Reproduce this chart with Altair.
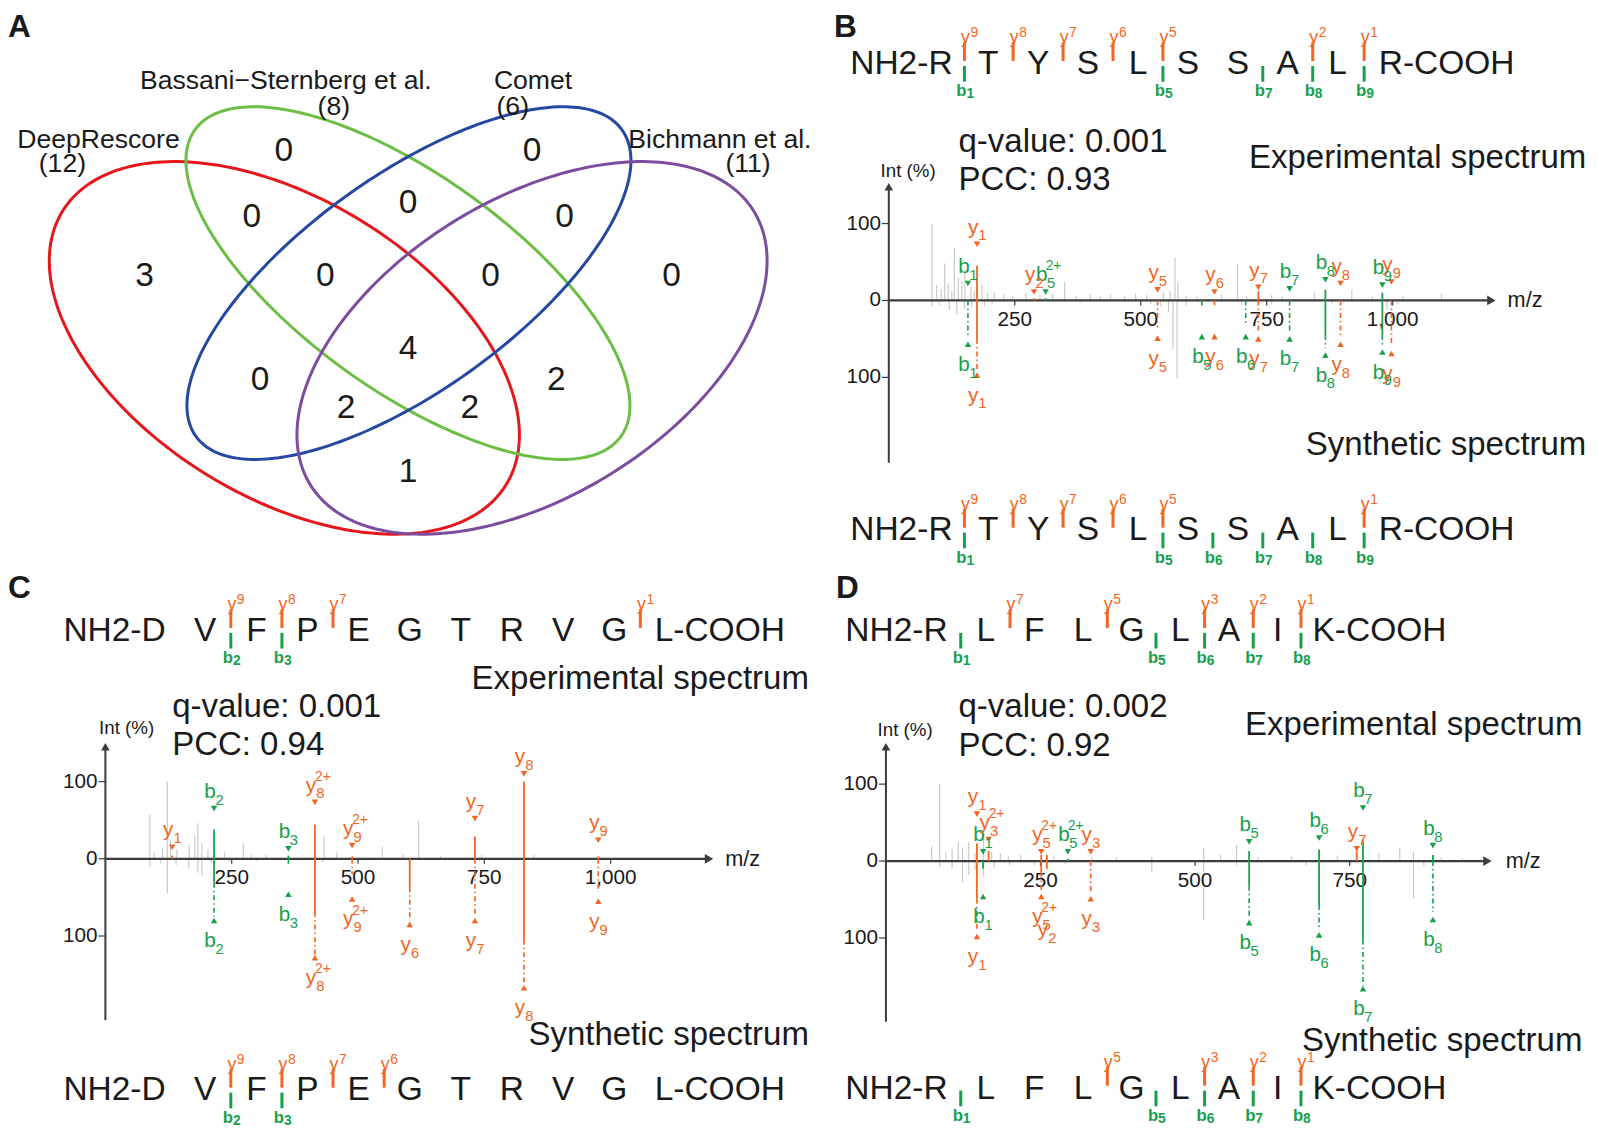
import altair as alt
import numpy as np
import pandas as pd

# ============================ DATA ============================
# ---- Panel A: overlap of identified peptides ----
VENN_NAMES = ["DeepRescore", "Bassani\u2212Sternberg et al.", "Comet", "Bichmann et al."]
VENN_TOTALS = [12, 8, 6, 11]
# region keys: A=DeepRescore, B=Bassani-Sternberg, C=Comet, D=Bichmann
REGION_KEYS = ["B", "C", "AB", "BC", "CD", "A", "ABC", "BCD", "D",
               "ABCD", "AC", "BD", "ACD", "ABD", "AD"]
REGION_COUNTS = [0, 0, 0, 0, 0, 3, 0, 0, 0, 4, 0, 2, 2, 2, 1]

# ---- Panel B: RTYSLSSALR ----
B_PEPTIDE = "RTYSLSSALR"
B_QVALUE = "q-value: 0.001"
B_PCC = "PCC: 0.93"
B_TOP_Y = [9, 8, 7, 6, 5, 2, 1]
B_TOP_B = [1, 5, 7, 8, 9]
B_BOT_Y = [9, 8, 7, 6, 5, 1]
B_BOT_B = [1, 5, 6, 7, 8, 9]
B_ION_TYPE = ["b", "y", "y", "b", "y", "b", "y", "b", "y", "b", "b", "y", "b", "y"]
B_ION_NUM = [1, 1, 2, 5, 5, 5, 6, 6, 7, 7, 8, 8, 9, 9]
B_ION_CHARGE = ["", "", "", "2+", "", "", "", "", "", "", "", "", "", ""]
B_ION_MZ = [157.1, 175.1, 288.2, 311.2, 533.3, 621.3, 646.4, 708.4, 733.4, 795.4, 866.5, 896.5, 979.6, 997.6]
B_EXP_INT = [0, 45, 3, 3, 0, 0, 0, 0, 12, 0, 14, 0, 10, 0]
B_SYN_INT = [0, -50, 0, 0, 0, 0, 0, 0, 0, 0, -45, 0, -45, 0]
B_LINK_INT = [-48, -92, 0, 0, -35, -10, -10, -30, -40, -40, -62, -48, -60, -58]
B_MARK_EXP = [22, 73, 11, 11, 14, None, 11, None, 17, 15, 27, 22, 20, 24]
B_MARK_SYN = [-57, -97, None, None, -49, -47, -47, -47, -50, -50, -71, -57, -67, -69]
B_LABEL_SYN = [None] * 14
B_GRAY_TOP_MZ = [86, 95, 104, 111, 118, 125, 130, 138, 145, 151, 163, 170, 185, 196, 209, 228, 246, 272,
                 300, 325, 349, 372, 400, 420, 440, 468, 490, 512, 545, 558, 568, 574, 590, 612, 660, 692,
                 710, 760, 780, 845, 919, 960, 1020, 1097]
B_GRAY_TOP_INT = [100, 20, 15, 48, 22, 12, 69, 30, 25, 39, 18, 12, 20, 10, 11, 8, 6, 10,
                  7, 9, 24, 6, 8, 5, 8, 6, 9, 7, 10, 12, 56, 24, 6, 5, 8, 48,
                  6, 7, 5, 10, 14, 5, 6, 9]
B_GRAY_BOT_MZ = [86, 100, 120, 135, 150, 165, 190, 205, 250, 380, 520, 540, 555, 564, 572, 590, 700,
                 760, 880, 989, 1010]
B_GRAY_BOT_INT = [-8, -6, -12, -18, -10, -9, -7, -5, -4, -3, -5, -8, -15, -63, -101, -7, -6,
                  -5, -4, -12, -5]
B_XTICKS = [250, 500, 750, 1000]
B_XTICK_LABELS = ["250", "500", "750", "1,000"]

# ---- Panel C: DVFPEGTRVGL ----
C_PEPTIDE = "DVFPEGTRVGL"
C_QVALUE = "q-value: 0.001"
C_PCC = "PCC: 0.94"
C_TOP_Y = [9, 8, 7, 1]
C_TOP_B = [2, 3]
C_BOT_Y = [9, 8, 7, 6]
C_BOT_B = [2, 3]
C_ION_TYPE = ["y", "b", "b", "y", "y", "y", "y", "y", "y"]
C_ION_NUM = [1, 2, 3, 8, 9, 6, 7, 8, 9]
C_ION_CHARGE = ["", "", "", "2+", "2+", "", "", "", ""]
C_ION_MZ = [132.1, 215.1, 362.2, 414.7, 488.3, 602.4, 731.4, 828.5, 975.5]
C_EXP_INT = [4, 38, 4, 44, 3, 0, 29, 100, 3]
C_SYN_INT = [0, -31, 0, -69, 0, -37, 0, -105, 0]
C_LINK_INT = [0, -75, -8, -124, -20, -80, -71, -162, -43]
C_MARK_EXP = [15, 65, 13, 73, 17, None, 52, 110, 24]
C_MARK_SYN = [None, -80, -46, -128, -52, -85, -80, -167, -55]
C_LABEL_SYN = [None] * 9
C_GRAY_TOP_MZ = [88, 96, 113, 122.6, 129, 141.5, 166, 177, 183, 191, 203, 236, 273, 289, 318, 433,
                 458, 548, 589, 620, 663, 745, 848]
C_GRAY_TOP_INT = [57, 8, 15, 100, 25, 12, 18, 30, 46, 20, 12, 8, 20, 6, 5, 29,
                  8, 16, 6, 49, 4, 5, 5]
C_GRAY_BOT_MZ = [88, 110, 122.6, 140, 165, 183, 191, 210, 245, 300, 430, 600, 740]
C_GRAY_BOT_INT = [-10, -6, -45, -8, -12, -18, -22, -5, -4, -3, -4, -3, -3]
C_XTICKS = [250, 500, 750, 1000]
C_XTICK_LABELS = ["250", "500", "750", "1,000"]

# ---- Panel D: RLFLGLAIK ----
D_PEPTIDE = "RLFLGLAIK"
D_QVALUE = "q-value: 0.002"
D_PCC = "PCC: 0.92"
D_TOP_Y = [7, 5, 3, 2, 1]
D_TOP_B = [1, 5, 6, 7, 8]
D_BOT_Y = [5, 3, 2, 1]
D_BOT_B = [1, 5, 6, 7, 8]
D_ION_TYPE = ["y", "b", "y", "y", "y", "b", "y", "b", "b", "y", "b", "b"]
D_ION_NUM = [1, 1, 3, 5, 2, 5, 3, 5, 6, 7, 7, 8]
D_ION_CHARGE = ["", "", "2+", "2+", "", "2+", "", "", "", "", "", ""]
D_ION_MZ = [147.1, 157.1, 166.1, 251.2, 260.2, 294.2, 331.2, 587.4, 700.5, 761.5, 771.5, 884.6]
D_EXP_INT = [23, 0, 13, 8, 8, 3, 0, 13, 15, 13, 28, 8]
D_SYN_INT = [-49, -10, 0, -15, -10, 0, 0, -32, -57, 0, -102, 0]
D_LINK_INT = [-90, -10, 0, -40, -10, 0, -40, -74, -90, 0, -162, -66]
D_MARK_EXP = [61, 12, 28, 12, None, 12, 12, 25, 30, 16, 69, 20]
D_MARK_SYN = [-98, -46, None, -46, None, None, -49, -80, -96, None, -166, -76]
D_LABEL_SYN = [None, None, None, None, -63, None, None, None, None, None, None, None]
D_GRAY_TOP_MZ = [74, 87, 97, 107, 117, 124, 134, 144, 158, 171, 185, 198, 218, 272, 333, 373, 430,
                 514, 541, 567, 602, 656, 730, 797, 831, 853, 898, 932]
D_GRAY_TOP_INT = [19, 100, 12, 15, 25, 18, 25, 10, 36, 12, 10, 6, 8, 6, 6, 5, 6,
                  17, 8, 21, 5, 6, 7, 10, 17, 12, 5, 4]
D_GRAY_BOT_MZ = [87, 107, 124, 134, 144, 158, 175, 200, 240, 290, 430, 514, 567, 680, 853, 870]
D_GRAY_BOT_INT = [-8, -10, -28, -18, -12, -20, -8, -6, -5, -4, -15, -77, -6, -5, -49, -6]
D_XTICKS = [250, 500, 750]
D_XTICK_LABELS = ["250", "500", "750"]

INT_TICKS = [100, 0, -100]
INT_TICK_LABELS = ["100", "0", "100"]

# ============================ STYLE / LAYOUT ============================
SX = 1580 / 1598
SY = 1117 / 1137
FS = 0.985
FONT = "Liberation Sans, Arial, Helvetica, sans-serif"
BLACK = "#1a1a1a"
ORANGE = "#F26522"
GREEN = "#17A04B"
GRAY = "#C6C6C6"
AXIS = "#3c3c3c"
VENN_COLORS = ["#E5171D", "#6DBE46", "#2548A0", "#7C4C9E"]

SEQ_FS = 34
TITLE_FS = 33.5

VENN_BOX = (828, 570)
VENN_CX = [279.5, 404.5, 405.5, 530.0]
VENN_CY = [346.0, 280.0, 280.0, 346.0]
VENN_SEMI_A = [264, 266, 266, 264]
VENN_SEMI_B = [151, 109, 109, 151]
VENN_ROT = [32, 36, -36, -32]
REGION_POS = [(279, 146), (530, 146), (246.5, 213), (404.7, 199), (563, 213), (138, 273),
              (321, 273), (488, 273), (671, 273), (404.7, 347), (255, 379), (554.6, 379),
              (342, 407), (467, 407), (404.7, 472)]
NAME_POS = [(91.5, 134), (281, 74), (531, 74), (720, 134)]
TOTAL_POS = [(55, 159), (329.5, 101), (510.5, 101), (748.5, 159)]

LAYOUT_B = dict(box=(828, 0, 770, 570), zx=890.5, ppm=0.5096, zy=297.7, ppi=0.783,
                axis_top=178, axis_bot=463, arrow_x=1504, letter=(835, 20),
                q=(961, 136), pcc=(961, 175), exp=(1596, 153), syn=(1596, 445),
                intlab=(910, 166), mzlab=(1534, 297),
                seq=(955, 991, 50.5, 1386), seq_top=55, seq_bot=530)
LAYOUT_C = dict(box=(0, 570, 828, 567), zx=98.5, ppm=0.511, zy=866, ppi=0.786,
                axis_top=748, axis_bot=1030, arrow_x=713, letter=(0, 591),
                q=(166, 711), pcc=(166, 750), exp=(810, 683), syn=(810, 1045),
                intlab=(120, 733), mzlab=(743, 866),
                seq=(159.5, 199.5, 51.7, 654), seq_top=632, seq_bot=1100)
LAYOUT_D = dict(box=(828, 570, 770, 567), zx=887.6, ppm=0.6254, zy=868.3, ppi=0.783,
                axis_top=748, axis_bot=1032, arrow_x=1500, letter=(837, 591),
                q=(961, 711), pcc=(961, 751), exp=(1592, 730), syn=(1592, 1051),
                intlab=(907, 735), mzlab=(1532, 868),
                seq=(950, 988.5, 49.2, 1319), seq_top=632, seq_bot=1098)


# ============================ HELPERS ============================
def _xy(xs, ys):
    return dict(x=alt.X("x:Q", scale=xs, axis=None), y=alt.Y("y:Q", scale=ys, axis=None))


def vrule(df, xs, ys, width, dash=None):
    kw = dict(strokeWidth=width)
    if dash is not None:
        kw["strokeDash"] = dash
    return alt.Chart(df).mark_rule(**kw).encode(
        y2=alt.Y2("y2:Q"), color=alt.Color("c:N", scale=None), **_xy(xs, ys))


def hrule(df, xs, ys, width):
    return alt.Chart(df).mark_rule(strokeWidth=width).encode(
        x2=alt.X2("x2:Q"), color=alt.Color("c:N", scale=None), **_xy(xs, ys))


def txt(df, xs, ys, size, align="center", baseline="alphabetic", weight="normal", dx=0.0, dy=0.0):
    return alt.Chart(df).mark_text(
        align=align, baseline=baseline, fontSize=size * FS, fontWeight=weight,
        dx=dx * SX, dy=dy * SY, font=FONT,
    ).encode(text=alt.Text("t:N"), color=alt.Color("c:N", scale=None), **_xy(xs, ys))


def pts(df, xs, ys, shape, size):
    return alt.Chart(df).mark_point(shape=shape, filled=True, size=size, opacity=1).encode(
        color=alt.Color("c:N", scale=None), **_xy(xs, ys))


# ============================ PANEL A ============================
def venn_panel():
    W, H = VENN_BOX
    xs = alt.Scale(domain=[0, W], nice=False, zero=False)
    ys = alt.Scale(domain=[0, H], nice=False, zero=False, reverse=True)
    t = np.linspace(0, 2 * np.pi, 241)
    rows = []
    for k in range(4):
        th = np.deg2rad(VENN_ROT[k])
        ex = VENN_CX[k] + VENN_SEMI_A[k] * np.cos(t) * np.cos(th) - VENN_SEMI_B[k] * np.sin(t) * np.sin(th)
        ey = VENN_CY[k] + VENN_SEMI_A[k] * np.cos(t) * np.sin(th) + VENN_SEMI_B[k] * np.sin(t) * np.cos(th)
        for i in range(len(t)):
            rows.append(dict(s=k, o=i, x=float(ex[i]), y=float(ey[i]), c=VENN_COLORS[k]))
    ell = alt.Chart(pd.DataFrame(rows)).mark_line(strokeWidth=3).encode(
        order="o:Q", detail="s:N", color=alt.Color("c:N", scale=None), **_xy(xs, ys))
    counts = pd.DataFrame({"x": [p[0] for p in REGION_POS], "y": [p[1] for p in REGION_POS],
                           "t": [str(v) for v in REGION_COUNTS], "c": BLACK})
    names = pd.DataFrame({"x": [p[0] for p in NAME_POS], "y": [p[1] for p in NAME_POS],
                          "t": VENN_NAMES, "c": BLACK})
    totals = pd.DataFrame({"x": [p[0] for p in TOTAL_POS], "y": [p[1] for p in TOTAL_POS],
                           "t": ["(%d)" % v for v in VENN_TOTALS], "c": BLACK})
    letter = pd.DataFrame({"x": [0.0], "y": [20.0], "t": ["A"], "c": [BLACK]})
    layers = [
        ell,
        txt(counts, xs, ys, 34, baseline="middle"),
        txt(names, xs, ys, 27, baseline="middle"),
        txt(totals, xs, ys, 27, baseline="middle"),
        txt(letter, xs, ys, 32, align="left", baseline="middle", weight="bold"),
    ]
    return alt.layer(*layers).properties(width=W * SX, height=H * SY)


# ============================ SPECTRUM PANELS ============================
def spectrum_panel(L, peptide, qtxt, ptxt, top_y, top_b, bot_y, bot_b,
                   itype, inum, ichg, imz, iexp, isyn, ilink, imexp, imsyn, ilsyn,
                   gt_mz, gt_int, gb_mz, gb_int, xticks, xticklabels, letter):
    ox, oy, W, H = L["box"]
    zx, ppm, zy, ppi = L["zx"], L["ppm"], L["zy"], L["ppi"]

    def X(xr):
        return (xr - zx) / ppm

    def Y(yr):
        return (zy - yr) / ppi

    xs = alt.Scale(domain=[X(ox), X(ox + W)], nice=False, zero=False)
    ys = alt.Scale(domain=[Y(oy + H), Y(oy)], nice=False, zero=False)
    layers = []

    # background (unannotated) peaks
    g = pd.DataFrame({"x": list(gt_mz) + list(gb_mz),
                      "y": [0.0] * (len(gt_mz) + len(gb_mz)),
                      "y2": list(gt_int) + list(gb_int), "c": GRAY})
    layers.append(vrule(g, xs, ys, 1.1))

    # axes
    layers.append(vrule(pd.DataFrame({"x": [0.0], "y": [Y(L["axis_bot"])], "y2": [Y(L["axis_top"] + 4)],
                                      "c": [AXIS]}), xs, ys, 2.0))
    layers.append(hrule(pd.DataFrame({"x": [0.0], "x2": [X(L["arrow_x"] - 4)], "y": [0.0],
                                      "c": [AXIS]}), xs, ys, 2.2))
    layers.append(pts(pd.DataFrame({"x": [0.0], "y": [Y(L["axis_top"] + 4)], "c": [AXIS]}),
                      xs, ys, "triangle-up", 75))
    layers.append(pts(pd.DataFrame({"x": [X(L["arrow_x"] - 4)], "y": [0.0], "c": [AXIS]}),
                      xs, ys, "triangle-right", 95))
    yt = pd.DataFrame({"x": X(zx - 7), "x2": 0.0, "y": INT_TICKS, "c": AXIS})
    layers.append(hrule(yt, xs, ys, 1.2))
    ytl = pd.DataFrame({"x": X(zx - 8), "y": INT_TICKS, "t": INT_TICK_LABELS, "c": BLACK})
    layers.append(txt(ytl, xs, ys, 21, align="right", baseline="middle"))
    xt = pd.DataFrame({"x": xticks, "y": 0.0, "y2": Y(zy + 5), "c": AXIS})
    layers.append(vrule(xt, xs, ys, 1.2))
    xtl = pd.DataFrame({"x": xticks, "y": Y(zy + 20), "t": xticklabels, "c": BLACK})
    layers.append(txt(xtl, xs, ys, 21, baseline="middle"))

    # annotated ions
    solid, dashed = [], []
    tri_top, tri_bot = [], []
    lt, lts, ltp, lb, lbs, lbp = [], [], [], [], [], []
    for k in range(len(imz)):
        col = ORANGE if itype[k] == "y" else GREEN
        m = imz[k]
        if iexp[k] != isyn[k]:
            solid.append(dict(x=m, y=iexp[k], y2=isyn[k], c=col))
        if ilink[k] < isyn[k]:
            dashed.append(dict(x=m, y=isyn[k], y2=ilink[k], c=col))
        if imexp[k] is not None:
            tri_top.append(dict(x=m, y=imexp[k], c=col))
            lt.append(dict(x=m, y=imexp[k], t=itype[k], c=col))
            lts.append(dict(x=m, y=imexp[k], t=str(inum[k]), c=col))
            if ichg[k]:
                ltp.append(dict(x=m, y=imexp[k], t=ichg[k], c=col))
        anchor = imsyn[k]
        if imsyn[k] is not None:
            tri_bot.append(dict(x=m, y=imsyn[k], c=col))
        elif ilsyn[k] is not None:
            anchor = ilsyn[k]
        if anchor is not None:
            lb.append(dict(x=m, y=anchor, t=itype[k], c=col))
            lbs.append(dict(x=m, y=anchor, t=str(inum[k]), c=col))
            if ichg[k]:
                lbp.append(dict(x=m, y=anchor, t=ichg[k], c=col))
    if solid:
        layers.append(vrule(pd.DataFrame(solid), xs, ys, 1.8))
    if dashed:
        layers.append(vrule(pd.DataFrame(dashed), xs, ys, 1.6, dash=[5, 3, 1.5, 3]))
    if tri_top:
        layers.append(pts(pd.DataFrame(tri_top), xs, ys, "triangle-down", 42))
    if tri_bot:
        layers.append(pts(pd.DataFrame(tri_bot), xs, ys, "triangle-up", 42))
    if lt:
        layers.append(txt(pd.DataFrame(lt), xs, ys, 21, dx=-4, dy=-11))
        layers.append(txt(pd.DataFrame(lts), xs, ys, 15, dx=5.5, dy=-4))
    if ltp:
        layers.append(txt(pd.DataFrame(ltp), xs, ys, 14, dx=8, dy=-22))
    if lb:
        layers.append(txt(pd.DataFrame(lb), xs, ys, 21, dx=-4, dy=27))
        layers.append(txt(pd.DataFrame(lbs), xs, ys, 15, dx=5.5, dy=34))
    if lbp:
        layers.append(txt(pd.DataFrame(lbp), xs, ys, 14, dx=8, dy=16))

    # peptide sequences with fragment markers
    pe, ms, pitch, ss = L["seq"]
    n = len(peptide)
    centers = [pe - 12] + [ms + pitch * i for i in range(n - 2)] + [ss + 12]
    bx = {k: (centers[k - 1] + centers[k]) / 2 for k in range(1, n)}
    for yc, ylist, blist in [(L["seq_top"], top_y, top_b), (L["seq_bot"], bot_y, bot_b)]:
        base = Y(yc + 12)
        mid = pd.DataFrame({"x": [X(c) for c in centers[1:-1]], "y": base,
                            "t": list(peptide[1:-1]), "c": BLACK})
        layers.append(txt(mid, xs, ys, SEQ_FS))
        layers.append(txt(pd.DataFrame({"x": [X(pe)], "y": [base], "t": ["NH2-" + peptide[0]],
                                        "c": [BLACK]}), xs, ys, SEQ_FS, align="right"))
        layers.append(txt(pd.DataFrame({"x": [X(ss)], "y": [base], "t": [peptide[-1] + "-COOH"],
                                        "c": [BLACK]}), xs, ys, SEQ_FS, align="left"))
        ypos = [X(bx[n - j]) for j in ylist]
        bpos = [X(bx[j]) for j in blist]
        layers.append(vrule(pd.DataFrame({"x": ypos, "y": Y(yc - 20), "y2": Y(yc - 1), "c": ORANGE}),
                            xs, ys, 3))
        layers.append(vrule(pd.DataFrame({"x": bpos, "y": Y(yc + 4), "y2": Y(yc + 20), "c": GREEN}),
                            xs, ys, 3))
        layers.append(txt(pd.DataFrame({"x": ypos, "y": Y(yc - 19), "t": "y", "c": ORANGE}),
                          xs, ys, 18, dx=1))
        layers.append(txt(pd.DataFrame({"x": ypos, "y": Y(yc - 19), "t": [str(j) for j in ylist],
                                        "c": ORANGE}), xs, ys, 14, dx=10, dy=-6))
        layers.append(txt(pd.DataFrame({"x": bpos, "y": Y(yc + 35), "t": "b", "c": GREEN}),
                          xs, ys, 17, weight="bold", dx=-3))
        layers.append(txt(pd.DataFrame({"x": bpos, "y": Y(yc + 35), "t": [str(j) for j in blist],
                                        "c": GREEN}), xs, ys, 14, weight="bold", dx=6, dy=2))

    # annotations
    def one(p, s):
        return pd.DataFrame({"x": [X(p[0])], "y": [Y(p[1])], "t": [s], "c": [BLACK]})

    layers.append(txt(one(L["q"], qtxt), xs, ys, TITLE_FS, align="left", baseline="middle"))
    layers.append(txt(one(L["pcc"], ptxt), xs, ys, TITLE_FS, align="left", baseline="middle"))
    layers.append(txt(one(L["exp"], "Experimental spectrum"), xs, ys, TITLE_FS, align="right",
                      baseline="middle"))
    layers.append(txt(one(L["syn"], "Synthetic spectrum"), xs, ys, TITLE_FS, align="right",
                      baseline="middle"))
    layers.append(txt(one(L["intlab"], "Int (%)"), xs, ys, 19, baseline="middle"))
    layers.append(txt(one(L["mzlab"], "m/z"), xs, ys, 22, baseline="middle"))
    layers.append(txt(one(L["letter"], letter), xs, ys, 32, align="left", baseline="middle", weight="bold"))

    return alt.layer(*layers).properties(width=W * SX, height=H * SY)


panel_a = venn_panel()
panel_b = spectrum_panel(LAYOUT_B, B_PEPTIDE, B_QVALUE, B_PCC, B_TOP_Y, B_TOP_B, B_BOT_Y, B_BOT_B,
                         B_ION_TYPE, B_ION_NUM, B_ION_CHARGE, B_ION_MZ, B_EXP_INT, B_SYN_INT,
                         B_LINK_INT, B_MARK_EXP, B_MARK_SYN, B_LABEL_SYN,
                         B_GRAY_TOP_MZ, B_GRAY_TOP_INT, B_GRAY_BOT_MZ, B_GRAY_BOT_INT,
                         B_XTICKS, B_XTICK_LABELS, "B")
panel_c = spectrum_panel(LAYOUT_C, C_PEPTIDE, C_QVALUE, C_PCC, C_TOP_Y, C_TOP_B, C_BOT_Y, C_BOT_B,
                         C_ION_TYPE, C_ION_NUM, C_ION_CHARGE, C_ION_MZ, C_EXP_INT, C_SYN_INT,
                         C_LINK_INT, C_MARK_EXP, C_MARK_SYN, C_LABEL_SYN,
                         C_GRAY_TOP_MZ, C_GRAY_TOP_INT, C_GRAY_BOT_MZ, C_GRAY_BOT_INT,
                         C_XTICKS, C_XTICK_LABELS, "C")
panel_d = spectrum_panel(LAYOUT_D, D_PEPTIDE, D_QVALUE, D_PCC, D_TOP_Y, D_TOP_B, D_BOT_Y, D_BOT_B,
                         D_ION_TYPE, D_ION_NUM, D_ION_CHARGE, D_ION_MZ, D_EXP_INT, D_SYN_INT,
                         D_LINK_INT, D_MARK_EXP, D_MARK_SYN, D_LABEL_SYN,
                         D_GRAY_TOP_MZ, D_GRAY_TOP_INT, D_GRAY_BOT_MZ, D_GRAY_BOT_INT,
                         D_XTICKS, D_XTICK_LABELS, "D")

chart = alt.vconcat(
    alt.hconcat(panel_a, panel_b, spacing=0),
    alt.hconcat(panel_c, panel_d, spacing=0),
    spacing=0,
).properties(padding=0, background="white").configure_view(stroke=None).configure_concat(spacing=0)

chart.save("out.html", embed_options={"renderer": "svg", "actions": False})
